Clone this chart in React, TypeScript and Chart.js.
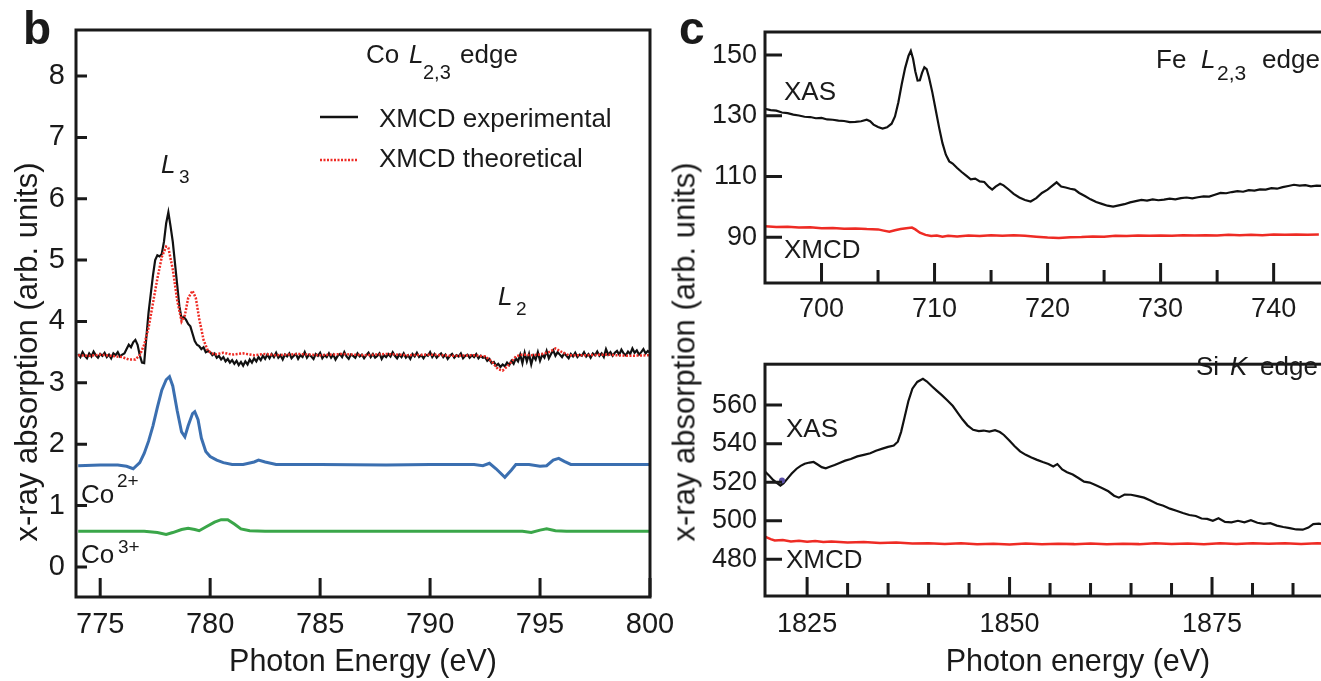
import React, { useEffect, useRef } from "react";
import { Chart, registerables } from "chart.js";

Chart.register(...registerables);

const FONT = '"Liberation Sans", Arial, Helvetica, sans-serif';
const INK = "#1a1a1a";
const RED = "#ee2b24";
const BLUE = "#3b6fb0";
const GREEN = "#3aa649";

// ---------------- Panel b : Co L2,3 edge ----------------
const bXTicks = [775, 780, 785, 790, 795, 800];
const bYTicks = [0, 1, 2, 3, 4, 5, 6, 7, 8];
const bExpStart = 774.0;
const bExpStep = 0.1;
const bExpValues = [
  3.47, 3.42, 3.5, 3.44, 3.4, 3.48, 3.43, 3.51, 3.45, 3.41, 3.47, 3.44, 3.49, 3.42, 3.46, 3.4, 3.48, 3.45, 3.5, 3.43, 3.46,
  3.48, 3.55, 3.62, 3.58, 3.66, 3.7, 3.62, 3.45, 3.33,
  3.32, 3.75, 4.15, 4.45, 4.75, 5.0, 5.08, 5.06, 5.1, 5.3, 5.6, 5.78, 5.55, 5.3, 4.95, 4.6, 4.25, 4.05, 4.07, 4.03,
  3.96, 3.92, 3.8, 3.68, 3.62, 3.6, 3.55, 3.58, 3.5, 3.52,
  3.5, 3.45, 3.48, 3.41, 3.44, 3.38, 3.42, 3.35, 3.39, 3.33, 3.37, 3.31, 3.36, 3.29, 3.34, 3.28, 3.35, 3.3, 3.38, 3.33,
  3.4, 3.35, 3.42, 3.37, 3.44, 3.39,
  3.46, 3.4, 3.47, 3.42, 3.49, 3.41, 3.45, 3.38, 3.46, 3.43,
  3.48, 3.4, 3.44, 3.47, 3.39, 3.45, 3.42, 3.5, 3.41, 3.46,
  3.43, 3.39, 3.47, 3.44, 3.49, 3.4, 3.45, 3.42, 3.48, 3.41,
  3.46, 3.38, 3.44, 3.47, 3.42, 3.5, 3.43, 3.39, 3.46, 3.44,
  3.41, 3.48, 3.43, 3.46, 3.4, 3.45, 3.49, 3.42, 3.47, 3.41,
  3.44, 3.48, 3.39, 3.45, 3.42, 3.47, 3.43, 3.5, 3.44, 3.4,
  3.46, 3.42, 3.48, 3.41, 3.45, 3.39, 3.47, 3.43, 3.49, 3.42,
  3.45, 3.4, 3.46, 3.44, 3.5, 3.42, 3.47, 3.41, 3.45, 3.48,
  3.42, 3.46, 3.39, 3.44, 3.47, 3.41, 3.45, 3.43, 3.48, 3.4,
  3.44, 3.46, 3.41, 3.45, 3.42, 3.47, 3.4, 3.44, 3.41,
  3.42, 3.36, 3.39, 3.32, 3.34, 3.28, 3.31, 3.26, 3.3, 3.27, 3.33, 3.29, 3.36, 3.31, 3.4, 3.35,
  3.46, 3.32, 3.49, 3.35, 3.47, 3.3, 3.44, 3.38, 3.5, 3.36, 3.46, 3.41, 3.52, 3.4, 3.47,
  3.53, 3.44, 3.5, 3.46, 3.42, 3.48, 3.44, 3.4, 3.47, 3.43,
  3.49, 3.42, 3.46, 3.44, 3.5, 3.43, 3.47, 3.41, 3.48, 3.45,
  3.51, 3.44, 3.48, 3.42, 3.55, 3.46, 3.5, 3.44, 3.49, 3.52,
  3.46, 3.54, 3.48, 3.45, 3.51, 3.47, 3.56, 3.49, 3.53, 3.46,
  3.5, 3.55, 3.48, 3.52, 3.49,
];
const bTheory: [number, number][] = [
  [774.0, 3.45], [774.5, 3.44], [775.0, 3.46], [775.5, 3.44], [776.0, 3.42], [776.3, 3.38], [776.6, 3.38],
  [776.8, 3.45], [777.0, 3.62], [777.2, 3.9], [777.4, 4.3], [777.6, 4.7], [777.8, 5.05], [778.0, 5.22],
  [778.1, 5.2], [778.3, 4.85], [778.5, 4.35], [778.7, 4.0], [778.85, 4.1], [779.0, 4.38], [779.2, 4.5],
  [779.35, 4.38], [779.5, 4.05], [779.7, 3.7], [779.9, 3.52], [780.2, 3.46], [780.6, 3.49], [781.0, 3.46],
  [781.5, 3.48], [782.0, 3.45], [782.5, 3.47], [783.0, 3.45], [784.0, 3.47], [785.0, 3.45], [786.0, 3.47],
  [787.0, 3.45], [788.0, 3.47], [789.0, 3.45], [790.0, 3.46], [791.0, 3.44], [792.0, 3.45], [792.5, 3.43],
  [792.8, 3.35], [793.1, 3.22], [793.3, 3.2], [793.6, 3.3], [793.9, 3.43], [794.2, 3.46], [794.6, 3.45],
  [795.0, 3.46], [795.4, 3.5], [795.7, 3.56], [796.0, 3.5], [796.3, 3.45], [797.0, 3.45], [798.0, 3.46],
  [799.0, 3.44], [800.0, 3.45],
];
const bCo2: [number, number][] = [
  [774.0, 1.65], [775.0, 1.66], [775.8, 1.66], [776.2, 1.64], [776.5, 1.6], [776.8, 1.7], [777.0, 1.85],
  [777.2, 2.05], [777.4, 2.3], [777.6, 2.6], [777.8, 2.88], [778.0, 3.05], [778.15, 3.1], [778.3, 2.95],
  [778.5, 2.55], [778.7, 2.2], [778.85, 2.12], [779.0, 2.3], [779.2, 2.5], [779.3, 2.53], [779.45, 2.4],
  [779.6, 2.1], [779.8, 1.88], [780.0, 1.8], [780.3, 1.74], [780.6, 1.7], [781.0, 1.67], [781.5, 1.67],
  [782.0, 1.71], [782.2, 1.74], [782.5, 1.71], [783.0, 1.67], [785.0, 1.67], [788.0, 1.66], [790.0, 1.67],
  [792.0, 1.67], [792.4, 1.65], [792.7, 1.69], [793.0, 1.6], [793.4, 1.46], [793.7, 1.58], [793.9, 1.67],
  [794.5, 1.67], [795.0, 1.64], [795.3, 1.65], [795.6, 1.74], [795.85, 1.77], [796.1, 1.72], [796.4, 1.67],
  [798.0, 1.67], [800.0, 1.67],
];
const bCo3: [number, number][] = [
  [774.0, 0.58], [776.0, 0.58], [777.0, 0.58], [777.6, 0.56], [778.0, 0.53], [778.3, 0.56], [778.7, 0.61],
  [779.0, 0.63], [779.3, 0.61], [779.5, 0.59], [779.8, 0.65], [780.2, 0.73], [780.5, 0.77], [780.8, 0.77],
  [781.1, 0.7], [781.4, 0.62], [781.8, 0.59], [782.5, 0.58], [785.0, 0.58], [790.0, 0.58], [793.0, 0.58],
  [794.2, 0.58], [794.6, 0.56], [795.0, 0.6], [795.3, 0.62], [795.7, 0.59], [796.2, 0.58], [800.0, 0.58],
];

// ---------------- Panel c (top) : Fe L2,3 edge ----------------
const feXTicks = [700, 710, 720, 730, 740, 750];
const feXMinor = [705, 715, 725, 735, 745];
const feYTicks = [90, 110, 130, 150];
const feXas: [number, number][] = [
  [695.0, 132.3], [695.5, 131.9], [696.0, 131.7], [696.5, 131.1], [697.0, 130.9], [697.5, 130.4], [698.0, 130.1],
  [698.5, 129.7], [699.0, 129.6], [699.5, 129.2], [700.0, 129.3], [700.5, 128.8], [701.0, 128.7], [701.5, 128.4],
  [702.0, 128.3], [702.5, 127.9], [703.0, 128.0], [703.5, 128.2], [704.0, 128.7], [704.3, 128.2], [704.6, 127.1],
  [705.0, 126.3], [705.4, 125.8], [705.8, 126.2], [706.2, 127.4], [706.5, 129.8], [706.8, 134.5], [707.1, 140.5],
  [707.4, 145.8], [707.7, 149.8], [707.9, 151.4], [708.1, 148.8], [708.3, 144.6], [708.5, 141.6], [708.7, 141.7],
  [708.9, 144.2], [709.1, 146.0], [709.3, 145.4], [709.5, 142.8], [709.8, 137.8], [710.1, 132.0], [710.4, 126.2],
  [710.7, 121.0], [711.0, 117.2], [711.3, 115.0], [711.6, 114.3], [712.0, 112.8], [712.4, 111.5], [712.8, 110.3],
  [713.2, 109.1], [713.6, 109.3], [714.0, 108.4], [714.4, 108.2], [714.8, 106.6], [715.1, 105.7], [715.4, 106.7],
  [715.8, 107.6], [716.1, 107.1], [716.5, 105.9], [717.0, 104.3], [717.5, 103.1], [718.0, 102.3], [718.5, 101.8],
  [719.0, 102.9], [719.5, 104.6], [720.0, 105.7], [720.4, 106.9], [720.8, 108.1], [721.2, 106.7], [721.6, 106.4],
  [722.0, 106.0], [722.4, 105.7], [722.8, 104.6], [723.3, 103.6], [723.8, 102.5], [724.3, 101.6], [724.8, 101.0],
  [725.3, 100.4], [725.8, 100.1], [726.3, 100.5], [726.8, 100.9], [727.3, 101.5], [727.8, 101.9], [728.3, 102.3],
  [728.8, 102.1], [729.3, 102.5], [729.8, 102.2], [730.3, 102.4], [730.8, 102.7], [731.3, 102.5], [731.8, 102.9],
  [732.3, 103.1], [732.8, 102.8], [733.3, 103.2], [733.8, 103.5], [734.3, 103.4], [734.8, 104.0], [735.3, 104.6],
  [735.8, 104.5], [736.3, 104.9], [736.8, 105.2], [737.3, 105.0], [737.8, 105.5], [738.3, 105.4], [738.8, 105.8],
  [739.3, 105.7], [739.8, 106.2], [740.3, 106.0], [740.8, 106.5], [741.3, 106.9], [741.8, 107.3], [742.3, 107.0],
  [742.8, 107.2], [743.3, 106.8], [743.8, 107.0], [744.3, 106.9],
];
const feXmcd: [number, number][] = [
  [695, 93.6], [696, 93.4], [697, 93.5], [698, 93.2], [699, 93.3], [700, 93.0], [701, 93.1], [702, 92.8],
  [703, 92.9], [704, 92.7], [705, 92.6], [705.5, 92.2], [706, 91.8], [706.5, 92.3], [707, 92.7], [707.5, 93.0],
  [708, 93.2], [708.3, 92.6], [708.7, 91.5], [709.2, 90.8], [709.7, 90.4], [710.2, 90.6], [710.7, 90.2],
  [711.2, 90.5], [712, 90.3], [713, 90.6], [714, 90.4], [715, 90.7], [716, 90.5], [717, 90.7], [718, 90.5],
  [719, 90.2], [720, 89.9], [721, 89.8], [722, 90.0], [723, 90.1], [724, 90.3], [725, 90.2], [726, 90.5],
  [727, 90.4], [728, 90.6], [729, 90.5], [730, 90.6], [731, 90.5], [732, 90.7], [733, 90.6], [734, 90.7],
  [735, 90.6], [736, 90.8], [737, 90.7], [738, 90.8], [739, 90.7], [740, 90.9], [741, 90.8], [742, 90.9],
  [743, 90.8], [744, 90.9],
];

// ---------------- Panel c (bottom) : Si K edge ----------------
const siXTicks = [1825, 1850, 1875];
const siXMinor = [1830, 1835, 1840, 1845, 1855, 1860, 1865, 1870, 1880, 1885, 1890, 1895];
const siYTicks = [480, 500, 520, 540, 560];
const siXas: [number, number][] = [
  [1819.8, 525.5], [1820.3, 523.5], [1820.8, 521.2], [1821.3, 519.5], [1821.7, 518.2], [1822.1, 519.5],
  [1822.6, 522.0], [1823.1, 524.5], [1823.7, 527.0], [1824.2, 528.5], [1824.7, 529.6], [1825.3, 530.2],
  [1825.8, 530.5], [1826.3, 529.2], [1826.8, 527.8], [1827.3, 527.2], [1827.8, 528.0], [1828.4, 528.9],
  [1829.0, 530.0], [1829.7, 531.2], [1830.4, 532.0], [1831.2, 533.4], [1832.0, 534.2], [1832.8, 535.0],
  [1833.5, 536.3], [1834.3, 537.4], [1835.0, 538.3], [1835.7, 539.0], [1836.2, 541.0], [1836.6, 546.0],
  [1837.0, 553.0], [1837.5, 562.0], [1838.0, 568.5], [1838.6, 572.0], [1839.3, 573.6], [1839.8, 572.2],
  [1840.4, 569.8], [1841.0, 567.5], [1841.6, 565.3], [1842.3, 562.5], [1843.0, 559.5], [1843.6, 556.0],
  [1844.2, 552.5], [1844.8, 549.5], [1845.5, 547.2], [1846.2, 546.5], [1846.8, 546.8], [1847.5, 546.3],
  [1848.2, 547.0], [1848.8, 546.0], [1849.3, 544.5], [1850.0, 541.5], [1850.6, 538.8], [1851.3, 536.0],
  [1852.0, 534.2], [1852.7, 532.8], [1853.4, 531.6], [1854.1, 530.5], [1854.8, 529.5], [1855.4, 528.2],
  [1855.9, 529.4], [1856.5, 526.6], [1857.1, 525.2], [1857.8, 524.0], [1858.5, 522.2], [1859.2, 520.3],
  [1859.9, 519.8], [1860.6, 518.5], [1861.4, 517.0], [1862.2, 515.3], [1862.9, 513.0], [1863.5, 512.0],
  [1864.2, 513.6], [1865.0, 513.5], [1865.8, 512.8], [1866.6, 512.0], [1867.4, 510.5], [1868.2, 508.8],
  [1869.0, 507.8], [1869.8, 506.3], [1870.6, 505.2], [1871.4, 504.0], [1872.2, 503.0], [1873.0, 502.5],
  [1873.7, 501.2], [1874.4, 501.0], [1875.1, 500.0], [1875.8, 501.3], [1876.6, 499.4], [1877.4, 499.2],
  [1878.2, 500.0], [1879.0, 499.2], [1879.8, 500.3], [1880.6, 499.0], [1881.4, 498.4], [1882.2, 498.8],
  [1883.0, 497.5], [1883.8, 496.8], [1884.6, 496.2], [1885.4, 495.5], [1886.2, 495.4], [1886.9, 496.5],
  [1887.5, 498.3], [1888.2, 498.5], [1889.0, 497.8],
];
const siXmcd: [number, number][] = [
  [1819.8, 491.8], [1820.5, 490.5], [1821, 489.8], [1822, 490.0], [1823, 489.3], [1824, 489.6], [1825, 489.1],
  [1826, 489.5], [1827, 489.0], [1828, 489.3], [1830, 488.8], [1832, 489.0], [1834, 488.5], [1836, 488.7],
  [1838, 488.2], [1840, 488.4], [1842, 488.0], [1844, 488.3], [1846, 487.8], [1848, 488.1], [1850, 487.7],
  [1852, 488.2], [1854, 487.8], [1856, 488.1], [1858, 487.9], [1860, 488.2], [1862, 487.8], [1864, 488.1],
  [1866, 487.9], [1868, 488.3], [1870, 488.0], [1872, 488.2], [1874, 487.9], [1876, 488.3], [1878, 488.0],
  [1880, 488.4], [1882, 488.1], [1884, 488.3], [1886, 488.0], [1888, 488.4], [1889, 488.2],
];
const siMarker: [number, number][] = [[1821.9, 520.9]];

// ---------------- helpers ----------------
type TextItem = { t: string; x: number; y: number; size: number; italic?: boolean; bold?: boolean };
type LegendLine = { x1: number; x2: number; y: number; color: string; width: number; dash?: number[] };

interface PanelSpec {
  ox: number;
  oy: number;
  datasets: any[];
  xMin: number;
  xMax: number;
  yMin: number;
  yMax: number;
  xTicks: number[];
  xMinor: number[];
  yTicks: number[];
  xMajLen: number;
  xMinLen: number;
  yLen: number;
  padding: { left: number; top: number; right: number; bottom: number };
  yWidth: number;
  xHeight: number;
  xPad: number;
  yPad: number;
  tickSize: number;
  xTitle?: string;
  texts: TextItem[];
  legend?: LegendLine[];
  yTitle?: { text: string; x: number; y: number; size: number };
}

const series = (pts: [number, number][], color: string, width: number, dash?: number[], order = 0) => ({
  data: pts.map(([x, y]) => ({ x, y })),
  borderColor: color,
  backgroundColor: color,
  borderWidth: width,
  borderDash: dash || [],
  pointRadius: 0,
  showLine: true,
  fill: false,
  tension: 0,
  order,
});

function buildChart(canvas: HTMLCanvasElement, s: PanelSpec) {
  const deco = {
    id: "deco",
    afterDatasetsDraw(chart: any) {
      const { ctx, chartArea: a, scales } = chart;
      const xs = scales.x;
      const ys = scales.y;
      ctx.save();
      ctx.strokeStyle = INK;
      ctx.lineWidth = 3;
      ctx.lineCap = "butt";
      ctx.strokeRect(a.left, a.top, a.right - a.left, a.bottom - a.top);
      ctx.beginPath();
      s.xTicks.forEach((v) => {
        const px = xs.getPixelForValue(v);
        ctx.moveTo(px, a.bottom);
        ctx.lineTo(px, a.bottom - s.xMajLen);
      });
      s.xMinor.forEach((v) => {
        const px = xs.getPixelForValue(v);
        ctx.moveTo(px, a.bottom);
        ctx.lineTo(px, a.bottom - s.xMinLen);
      });
      s.yTicks.forEach((v) => {
        const py = ys.getPixelForValue(v);
        ctx.moveTo(a.left, py);
        ctx.lineTo(a.left + s.yLen, py);
      });
      ctx.stroke();
      ctx.restore();
    },
    afterDraw(chart: any) {
      const { ctx } = chart;
      ctx.save();
      ctx.fillStyle = INK;
      ctx.textAlign = "left";
      ctx.textBaseline = "alphabetic";
      s.texts.forEach((t) => {
        ctx.font = `${t.italic ? "italic " : ""}${t.bold ? "bold " : ""}${t.size}px ${FONT}`;
        ctx.fillText(t.t, t.x - s.ox, t.y - s.oy);
      });
      (s.legend || []).forEach((l) => {
        ctx.beginPath();
        ctx.strokeStyle = l.color;
        ctx.lineWidth = l.width;
        ctx.setLineDash(l.dash || []);
        ctx.moveTo(l.x1 - s.ox, l.y - s.oy);
        ctx.lineTo(l.x2 - s.ox, l.y - s.oy);
        ctx.stroke();
      });
      ctx.setLineDash([]);
      if (s.yTitle) {
        ctx.translate(s.yTitle.x - s.ox, s.yTitle.y - s.oy);
        ctx.rotate(-Math.PI / 2);
        ctx.textAlign = "center";
        ctx.textBaseline = "middle";
        ctx.font = `${s.yTitle.size}px ${FONT}`;
        ctx.fillText(s.yTitle.text, 0, 0);
      }
      ctx.restore();
    },
  };

  const tickFont = { family: FONT, size: s.tickSize };
  return new Chart(canvas, {
    type: "scatter",
    data: { datasets: s.datasets },
    plugins: [deco],
    options: {
      responsive: false,
      animation: false,
      devicePixelRatio: 1,
      layout: { padding: s.padding },
      plugins: { legend: { display: false }, tooltip: { enabled: false } },
      scales: {
        x: {
          type: "linear",
          min: s.xMin,
          max: s.xMax,
          afterBuildTicks: (sc: any) => {
            sc.ticks = s.xTicks.map((v) => ({ value: v }));
          },
          afterFit: (sc: any) => {
            sc.height = s.xHeight;
          },
          grid: { display: false, drawTicks: false },
          border: { display: false },
          ticks: {
            padding: s.xPad,
            color: INK,
            font: tickFont,
            maxRotation: 0,
            autoSkip: false,
            callback: (v: any) => String(v),
          },
          title: s.xTitle
            ? { display: true, text: s.xTitle, color: INK, font: { family: FONT, size: 30.5 }, padding: { top: 0, bottom: 0 } }
            : { display: false },
        },
        y: {
          type: "linear",
          min: s.yMin,
          max: s.yMax,
          afterBuildTicks: (sc: any) => {
            sc.ticks = s.yTicks.map((v) => ({ value: v }));
          },
          afterFit: (sc: any) => {
            sc.width = s.yWidth;
          },
          grid: { display: false, drawTicks: false },
          border: { display: false },
          ticks: {
            padding: s.yPad,
            color: INK,
            font: tickFont,
            autoSkip: false,
            callback: (v: any) => String(v),
          },
        },
      },
    } as any,
  });
}

export default function App() {
  const bRef = useRef<HTMLCanvasElement>(null);
  const cTopRef = useRef<HTMLCanvasElement>(null);
  const cBotRef = useRef<HTMLCanvasElement>(null);

  useEffect(() => {
    const bExp: [number, number][] = bExpValues.map((v, i) => [bExpStart + i * bExpStep, v]);

    const chartB = buildChart(bRef.current!, {
      ox: 0,
      oy: 0,
      datasets: [
        series(bTheory, RED, 2.5, [2, 1.5], 0),
        series(bExp, "#111", 2.2, undefined, 1),
        series(bCo2, BLUE, 3, undefined, 2),
        series(bCo3, GREEN, 3, undefined, 3),
      ],
      xMin: 773.9,
      xMax: 800,
      yMin: -0.49,
      yMax: 8.75,
      xTicks: bXTicks,
      xMinor: [],
      yTicks: bYTicks,
      xMajLen: 19,
      xMinLen: 0,
      yLen: 11,
      padding: { left: 0, top: 30, right: 50, bottom: 0 },
      yWidth: 76,
      xHeight: 84,
      xPad: 10.5,
      yPad: 11,
      tickSize: 29,
      xTitle: "Photon Energy (eV)",
      texts: [
        { t: "b", x: 23, y: 44, size: 46, bold: true },
        { t: "Co", x: 366, y: 63, size: 26 },
        { t: "L", x: 409, y: 63, size: 26, italic: true },
        { t: "2,3", x: 423, y: 79, size: 20 },
        { t: "edge", x: 460, y: 63, size: 26 },
        { t: "XMCD experimental", x: 379, y: 126.5, size: 26 },
        { t: "XMCD theoretical", x: 379, y: 166.5, size: 26 },
        { t: "L", x: 161, y: 173, size: 26, italic: true },
        { t: "3", x: 179, y: 183, size: 19 },
        { t: "L", x: 498, y: 305, size: 26, italic: true },
        { t: "2", x: 516, y: 315, size: 19 },
        { t: "Co", x: 81, y: 502.5, size: 26 },
        { t: "2+", x: 117, y: 486.5, size: 19 },
        { t: "Co", x: 81, y: 563, size: 26 },
        { t: "3+", x: 118, y: 553, size: 19 },
      ],
      legend: [
        { x1: 320, x2: 358, y: 117, color: "#111", width: 2.5 },
        { x1: 320, x2: 358, y: 160, color: RED, width: 2.5, dash: [2, 1.5] },
      ],
      yTitle: { text: "x-ray absorption (arb. units)", x: 28, y: 352, size: 31 },
    });

    const chartCTop = buildChart(cTopRef.current!, {
      ox: 660,
      oy: 0,
      datasets: [series(feXas, "#111", 2.2, undefined, 0), series(feXmcd, RED, 2.5, undefined, 1)],
      xMin: 695,
      xMax: 750,
      yMin: 74.95,
      yMax: 157.6,
      xTicks: feXTicks,
      xMinor: feXMinor,
      yTicks: feYTicks,
      xMajLen: 20,
      xMinLen: 13,
      yLen: 17,
      padding: { left: 0, top: 32, right: 29, bottom: 0 },
      yWidth: 105,
      xHeight: 57,
      xPad: 10.8,
      yPad: 8,
      tickSize: 27,
      texts: [
        { t: "c", x: 679, y: 44, size: 46, bold: true },
        { t: "Fe", x: 1156, y: 68, size: 26 },
        { t: "L", x: 1201, y: 68, size: 26, italic: true },
        { t: "2,3", x: 1217, y: 80, size: 21 },
        { t: "edge", x: 1262, y: 68, size: 26 },
        { t: "XAS", x: 784, y: 100, size: 26 },
        { t: "XMCD", x: 784, y: 258, size: 26 },
      ],
    });

    const chartCBot = buildChart(cBotRef.current!, {
      ox: 660,
      oy: 340,
      datasets: [
        {
          ...series(siMarker, "#5b4fa8", 0, undefined, 0),
          showLine: false,
          pointRadius: 3,
          pointBorderWidth: 0,
        },
        series(siXas, "#111", 2.2, undefined, 1),
        series(siXmcd, RED, 2.5, undefined, 2),
      ],
      xMin: 1819.8,
      xMax: 1897.1,
      yMin: 461,
      yMax: 581.2,
      xTicks: siXTicks,
      xMinor: siXMinor,
      yTicks: siYTicks,
      xMajLen: 19,
      xMinLen: 13,
      yLen: 17,
      padding: { left: 0, top: 3, right: 29, bottom: 0 },
      yWidth: 105,
      xHeight: 85,
      xPad: 12.8,
      yPad: 8,
      tickSize: 27,
      xTitle: "Photon energy (eV)",
      texts: [
        { t: "Si", x: 1196, y: 375, size: 26 },
        { t: "K", x: 1230, y: 375, size: 26, italic: true },
        { t: "edge", x: 1260, y: 375, size: 26 },
        { t: "XAS", x: 786, y: 437, size: 26 },
        { t: "XMCD", x: 786, y: 568, size: 26 },
      ],
    });

    return () => {
      chartB.destroy();
      chartCTop.destroy();
      chartCBot.destroy();
    };
  }, []);

  return (
    <div
      style={{
        position: "absolute",
        left: 0,
        top: 0,
        width: 1321,
        height: 681,
        overflow: "hidden",
        background: "#fff",
      }}
    >
      <canvas ref={bRef} width={700} height={681} style={{ position: "absolute", left: 0, top: 0 }} />
      <canvas ref={cTopRef} width={760} height={340} style={{ position: "absolute", left: 660, top: 0 }} />
      <canvas ref={cBotRef} width={760} height={341} style={{ position: "absolute", left: 660, top: 340 }} />
      <div
        style={{
          position: "absolute",
          left: 684,
          top: 352,
          transform: "translate(-50%, -50%) rotate(-90deg)",
          whiteSpace: "nowrap",
          fontFamily: FONT,
          fontSize: 31,
          lineHeight: 1,
          color: INK,
        }}
      >
        x-ray absorption (arb. units)
      </div>
    </div>
  );
}
